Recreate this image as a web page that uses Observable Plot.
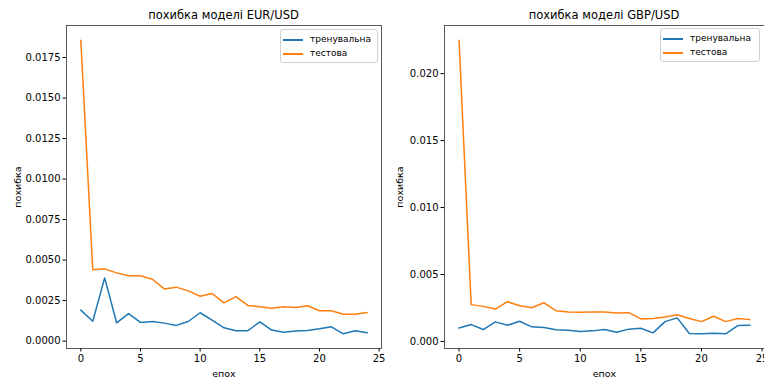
<!DOCTYPE html>
<html>
<head>
<meta charset="utf-8">
<script src="https://cdn.jsdelivr.net/npm/d3@7"></script>
<script src="https://cdn.jsdelivr.net/npm/@observablehq/plot@0.6"></script>
<style>
  html, body { margin: 0; padding: 0; background: #fff; }
  body { width: 764px; height: 379px; overflow: hidden; position: relative; font-family: "DejaVu Sans", sans-serif; }
  .panel { position: absolute; top: 0; }
  .panel svg { overflow: visible; }
  .title { position: absolute; top: 8px; font-size: 11.5px; color: #000; text-align: center; white-space: nowrap; }
  .legend { position: absolute; box-sizing: border-box; background: rgba(255,255,255,0.8); border: 1px solid #d0d0d0; border-radius: 3px; font-size: 9px; color: #000; }
  .legend .sw { position: absolute; left: 2px; width: 20px; height: 1.5px; }
  .legend .tx { position: absolute; left: 29px; line-height: 12px; white-space: nowrap; }
</style>
</head>
<body>
<script>
const epochs = d3.range(25);
const seriesNames = ["тренувальна", "тестова"];
const colors = ["#1f77b4", "#ff7f0e"];

const eurTrain = [0.00191, 0.00123, 0.00390, 0.00113, 0.00170, 0.00115, 0.00121, 0.00111, 0.00097, 0.00121,
                  0.00175, 0.00129, 0.00082, 0.00064, 0.00064, 0.00119, 0.00068, 0.00055, 0.00062, 0.00066,
                  0.00076, 0.00088, 0.00045, 0.00064, 0.00051];
const eurTest  = [0.01857, 0.00440, 0.00446, 0.00421, 0.00403, 0.00403, 0.00382, 0.00322, 0.00333, 0.00310,
                  0.00277, 0.00294, 0.00236, 0.00275, 0.00220, 0.00212, 0.00203, 0.00212, 0.00207, 0.00218,
                  0.00187, 0.00187, 0.00166, 0.00166, 0.00177];
const gbpTrain = [0.00101, 0.00126, 0.00089, 0.00146, 0.00121, 0.00151, 0.00109, 0.00104, 0.00087, 0.00084,
                  0.00074, 0.00079, 0.00089, 0.00069, 0.00092, 0.00099, 0.00064, 0.00148, 0.00176, 0.00059,
                  0.00057, 0.00062, 0.00057, 0.00119, 0.00121];
const gbpTest  = [0.02250, 0.00275, 0.00262, 0.00242, 0.00297, 0.00267, 0.00252, 0.00289, 0.00230, 0.00220,
                  0.00218, 0.00220, 0.00220, 0.00213, 0.00215, 0.00168, 0.00171, 0.00183, 0.00200, 0.00171,
                  0.00148, 0.00188, 0.00148, 0.00171, 0.00163];

const xTicks = [0, 5, 10, 15, 20, 25];
const eurYTicks = [0, 0.0025, 0.005, 0.0075, 0.01, 0.0125, 0.015, 0.0175];
const gbpYTicks = [0, 0.005, 0.01, 0.015, 0.02];

const titles = ["похибка моделі EUR/USD", "похибка моделі GBP/USD"];
const xLabel = "епох";
const yLabel = "похибка";

function toRows(train, test) {
  return [
    ...epochs.map((e, i) => ({epoch: e, value: train[i], series: seriesNames[0]})),
    ...epochs.map((e, i) => ({epoch: e, value: test[i], series: seriesNames[1]}))
  ];
}

function makePanel(cfg) {
  const rows = toRows(cfg.train, cfg.test);
  const vals = rows.map(d => d.value);
  const lo = d3.min(vals), hi = d3.max(vals), pad = (hi - lo) * 0.05;
  const chart = Plot.plot({
    width: cfg.width,
    height: 379,
    marginLeft: cfg.marginLeft,
    marginRight: cfg.marginRight,
    marginTop: 25,
    marginBottom: 31,
    style: {fontFamily: "DejaVu Sans, sans-serif", fontSize: "10px", color: "#000", background: "transparent", overflow: "visible"},
    x: {domain: [-1.2, 25.2]},
    y: {domain: [lo - pad, hi + pad]},
    color: {domain: seriesNames, range: colors},
    marks: [
      Plot.axisX({ticks: xTicks, tickSize: 3.5, tickPadding: 3, tickFormat: d3.format("d"),
                  label: null, fontSize: 10}),
      Plot.axisX({ticks: [], tickSize: 0, label: xLabel, labelAnchor: "center", labelArrow: "none",
                  labelOffset: 28, fontSize: 9.5}),
      Plot.axisY({ticks: cfg.yTicks, tickSize: 3.5, tickPadding: 2.5, tickFormat: d3.format(cfg.fmt),
                  label: null, fontSize: 10}),
      Plot.axisY({ticks: [], tickSize: 0, label: yLabel, labelAnchor: "center", labelArrow: "none",
                  labelOffset: cfg.labelOffset, fontSize: 9.5}),
      Plot.line(rows, {x: "epoch", y: "value", z: "series", stroke: "series", strokeWidth: 1.5, strokeLinejoin: "round"}),
      Plot.frame({stroke: "#333", strokeWidth: 0.8})
    ]
  });
  const panel = document.createElement("div");
  panel.className = "panel";
  panel.style.left = cfg.left + "px";
  panel.style.width = cfg.width + "px";
  panel.style.height = "379px";
  panel.appendChild(chart);

  const t = document.createElement("div");
  t.className = "title";
  t.textContent = cfg.title;
  const plotLeft = cfg.marginLeft, plotRight = cfg.width - cfg.marginRight;
  t.style.left = plotLeft + "px";
  t.style.width = (plotRight - plotLeft) + "px";
  panel.appendChild(t);

  const lg = document.createElement("div");
  lg.className = "legend";
  lg.style.left = cfg.legendLeft + "px";
  lg.style.top = cfg.legendTop + "px";
  lg.style.width = cfg.legendWidth + "px";
  lg.style.height = "34px";
  seriesNames.forEach((s, i) => {
    const sw = document.createElement("div");
    sw.className = "sw";
    sw.style.background = colors[i];
    sw.style.top = (9 + 14 * i) + "px";
    const tx = document.createElement("div");
    tx.className = "tx";
    tx.style.top = (3 + 14 * i) + "px";
    tx.textContent = s;
    lg.appendChild(sw); lg.appendChild(tx);
  });
  panel.appendChild(lg);
  document.body.appendChild(panel);
}

makePanel({left: 0, width: 382, marginLeft: 66, marginRight: 1, train: eurTrain, test: eurTest,
           yTicks: eurYTicks, fmt: ".4f", labelOffset: 52, title: titles[0],
           legendLeft: 280, legendTop: 29, legendWidth: 98});
makePanel({left: 382, width: 384, marginLeft: 62, marginRight: 2, train: gbpTrain, test: gbpTest,
           yTicks: gbpYTicks, fmt: ".3f", labelOffset: 48, title: titles[1],
           legendLeft: 278, legendTop: 28, legendWidth: 100});
</script>
</body>
</html>
